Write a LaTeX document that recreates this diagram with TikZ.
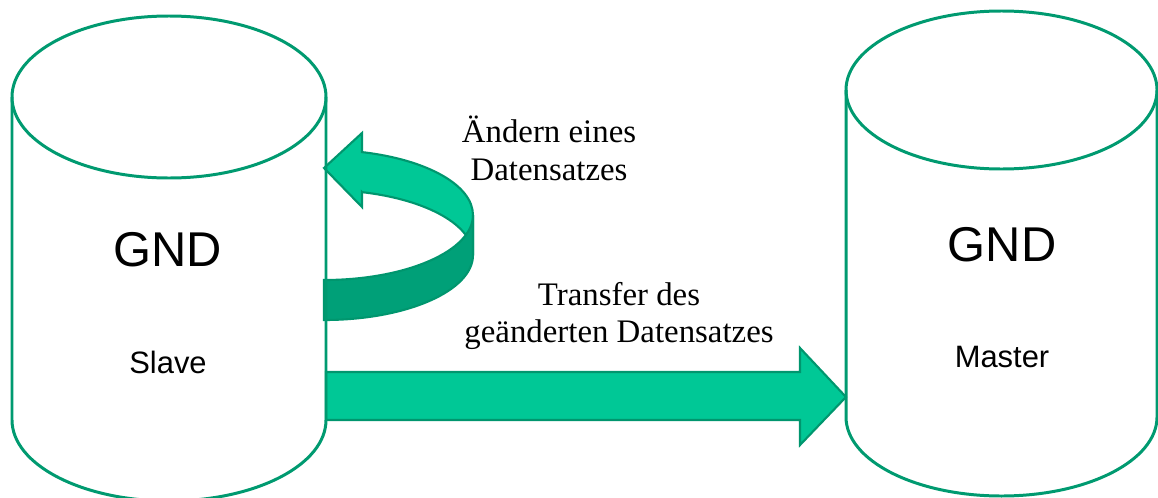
\documentclass[tikz,border=0pt]{standalone}
\usepackage{fontspec}
\setmainfont{Liberation Serif}
\newfontfamily\labelsans{Liberation Sans}
\definecolor{dbline}{HTML}{009A70}
\definecolor{arrowfill}{HTML}{00C896}
\definecolor{arrowedge}{HTML}{00966E}
\definecolor{ribbondark}{HTML}{00A078}
\begin{document}
\begin{tikzpicture}[x=0.02cm,y=-0.02cm,
  dbcyl/.style={draw=dbline,line width=1.7pt},
  blockarrow/.style={fill=arrowfill,draw=arrowedge,line width=1.2pt,line join=miter},
  ribbonfront/.style={fill=ribbondark,draw=arrowedge,line width=1.2pt,line join=miter},
  bigtitle/.style={font=\labelsans\fontsize{27.8}{30}\selectfont},
  role/.style={font=\labelsans\fontsize{17.6}{20}\selectfont},
  caption/.style={font=\fontsize{18.7}{21.5}\selectfont,align=center}]
\useasboundingbox (0,0) rectangle (1158,497);

% reference points on the database outlines
\coordinate (slaveEdge) at (326,397);
\coordinate (masterEdge) at (846,397);

% transfer arrow from slave to master
\draw[blockarrow] (slaveEdge |- 0,372) -- (800,372) -- (800,348)
  -- (masterEdge) -- (800,445) -- (800,420) -- (slaveEdge |- 0,420) -- cycle;

% circular "edit" arrow: rear part of the ribbon with arrow head
\draw[blockarrow] (362,192.1) -- (362,207) -- (324,168) -- (362,133) -- (362,152.1)
  arc[start angle=-75.2,end angle=0,x radius=149,y radius=65]
  -- (473,255)
  arc[start angle=0,end angle=-75.2,x radius=149,y radius=65] -- cycle;
% front part of the ribbon
\draw[ribbonfront] (324,280)
  arc[start angle=90,end angle=0,x radius=149,y radius=65]
  -- (473,255)
  arc[start angle=0,end angle=90,x radius=149,y radius=65] -- cycle;

% slave database
\draw[dbcyl] (169,97) ellipse[x radius=157,y radius=81];
\draw[dbcyl] (12,97) -- (12,420)
  arc[start angle=180,end angle=0,x radius=157,y radius=81] -- (326,97);

% master database
\draw[dbcyl] (1001.5,90) ellipse[x radius=155.5,y radius=79];
\draw[dbcyl] (846,90) -- (846,417)
  arc[start angle=180,end angle=0,x radius=155.5,y radius=79] -- (1157,90);

% labels
\node[bigtitle] (slaveTitle) at (168,250) {GND};
\node[role] (slaveRole) at (168,362) {Slave};
\node[bigtitle] (masterTitle) at (1002,245) {GND};
\node[role] (masterRole) at (1002,357) {Master};
\node[caption] (editCaption) at (549,148) {Ändern eines\\Datensatzes};
\node[caption] (transferCaption) at (619,316) {Transfer des\\geänderten Datensatzes};
\end{tikzpicture}
\end{document}
